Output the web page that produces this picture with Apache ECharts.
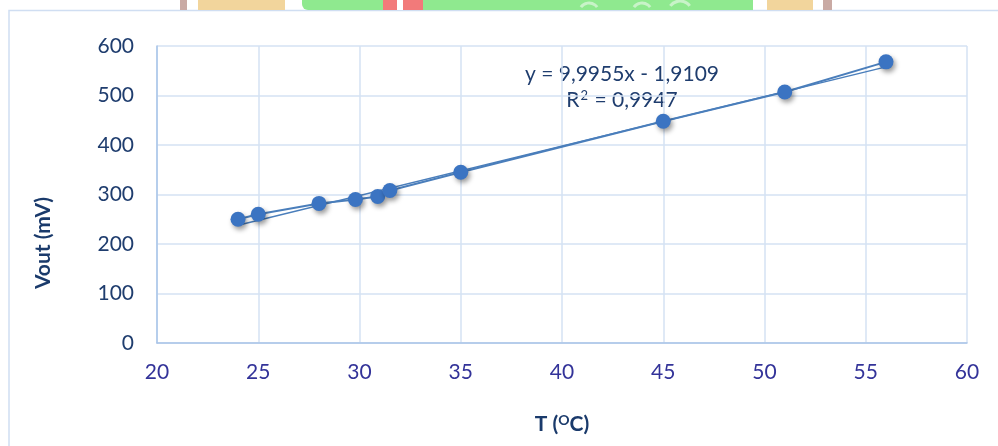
<!DOCTYPE html>
<html>
<head>
<meta charset="utf-8">
<script src="https://cdn.jsdelivr.net/npm/echarts@6/dist/echarts.min.js"></script>
<style>
  html, body { margin: 0; padding: 0; background: #fff; }
  #chart { width: 998px; height: 446px; }
</style>
</head>
<body>
<div id="chart"></div>
<script>
// measured points: temperature (°C) vs output voltage (mV)
const temps = [24, 25, 28, 29.8, 30.9, 31.5, 35, 45, 51, 56];
const vout = [250, 260, 282, 290, 296, 308, 345, 448, 507, 568];

// linear trendline shown on the chart
const slope = 9.9955;
const intercept = -1.9109;
const equationText = 'y = 9,9955x - 1,9109';
const r2Text = 'R{s|2} = 0,9947';

const xTicks = [20, 25, 30, 35, 40, 45, 50, 55, 60];
const yTicks = [0, 100, 200, 300, 400, 500, 600];

const FONT = 'Lato';
const lineBlue = '#4a7ebb';
const gridBlue = '#d5e2f3';

const chart = echarts.init(document.getElementById('chart'));

const points = temps.map((t, i) => [t, vout[i]]);
const tMin = Math.min(...temps), tMax = Math.max(...temps);
const trend = [[tMin, slope * tMin + intercept], [tMax, slope * tMax + intercept]];

chart.setOption({
  animation: false,
  backgroundColor: '#fff',
  grid: { left: 157, right: 31, top: 46, bottom: 103 },
  xAxis: {
    type: 'value',
    min: xTicks[0],
    max: xTicks[xTicks.length - 1],
    interval: 5,
    name: 'T ({s|O}C)',
    nameLocation: 'middle',
    nameGap: 70,
    nameTextStyle: {
      fontFamily: FONT, fontSize: 21, fontWeight: 'bold', color: '#1a3a6b',
      rich: { s: { fontFamily: FONT, fontSize: 14, fontWeight: 'bold', color: '#1a3a6b', verticalAlign: 'top', padding: [0, 0, 9, 0] } }
    },
    axisLine: { show: true, onZero: false, lineStyle: { color: '#a9c4e8', width: 1.5 } },
    axisTick: { show: false },
    axisLabel: { fontFamily: FONT, fontSize: 21, color: '#333399', margin: 19 },
    splitLine: { show: true, lineStyle: { color: gridBlue, width: 1.5 } }
  },
  yAxis: {
    type: 'value',
    min: yTicks[0],
    max: yTicks[yTicks.length - 1],
    interval: 100,
    axisLine: { show: true, lineStyle: { color: '#a9c4e8', width: 1.5 } },
    axisTick: { show: false },
    axisLabel: { fontFamily: FONT, fontSize: 21, color: '#1f3d6e', margin: 23 },
    splitLine: { show: true, lineStyle: { color: gridBlue, width: 1.5 } }
  },
  series: [
    {
      name: 'trend',
      type: 'line',
      data: trend,
      symbol: 'none',
      lineStyle: { color: lineBlue, width: 1.5 },
      z: 2
    },
    {
      name: 'Vout',
      type: 'line',
      data: points,
      symbol: 'circle',
      symbolSize: 15,
      lineStyle: { color: lineBlue, width: 2 },
      itemStyle: {
        color: '#3b74c2',
        shadowBlur: 5,
        shadowOffsetX: 2,
        shadowOffsetY: 3,
        shadowColor: 'rgba(0,0,0,0.4)'
      },
      z: 3
    }
  ],
  graphic: [
    // chart frame
    { type: 'rect', shape: { x: 9, y: 10.5, width: 1100, height: 500 }, style: { fill: 'none', stroke: '#d0def2', lineWidth: 1.5 }, silent: true, z: -1 },
    // partial logo strip behind the top edge
    { type: 'rect', shape: { x: 180, y: 0, width: 7, height: 10 }, style: { fill: '#c9aaa4' }, silent: true },
    { type: 'rect', shape: { x: 198, y: 0, width: 87, height: 10 }, style: { fill: '#f2d59c' }, silent: true },
    { type: 'rect', shape: { x: 302, y: 0, width: 451, height: 10, r: [0, 0, 0, 6] }, style: { fill: '#8fe98f' }, silent: true },
    { type: 'rect', shape: { x: 383, y: 0, width: 40, height: 10 }, style: { fill: '#f27a7a' }, silent: true },
    { type: 'rect', shape: { x: 397, y: 0, width: 6, height: 10 }, style: { fill: '#ffffff' }, silent: true },
    { type: 'arc', shape: { cx: 589, cy: 13, r: 10, startAngle: Math.PI * 1.2, endAngle: Math.PI * 1.8 }, style: { stroke: '#c8f3c8', lineWidth: 3, fill: 'none' }, silent: true },
    { type: 'arc', shape: { cx: 642, cy: 13, r: 10, startAngle: Math.PI * 1.2, endAngle: Math.PI * 1.8 }, style: { stroke: '#c8f3c8', lineWidth: 3, fill: 'none' }, silent: true },
    { type: 'arc', shape: { cx: 680, cy: 13, r: 12, startAngle: Math.PI * 1.2, endAngle: Math.PI * 1.8 }, style: { stroke: '#c8f3c8', lineWidth: 3, fill: 'none' }, silent: true },
    { type: 'rect', shape: { x: 767, y: 0, width: 46, height: 10 }, style: { fill: '#f2d59c' }, silent: true },
    { type: 'rect', shape: { x: 823, y: 0, width: 9, height: 10 }, style: { fill: '#c9aaa4' }, silent: true },
    // y-axis title
    {
      type: 'text', x: 43, y: 243, rotation: Math.PI / 2,
      style: { text: 'Vout (mV)', fontFamily: FONT, fontSize: 21, fontWeight: 'bold', fill: '#1a3a6b', align: 'center', verticalAlign: 'middle' }
    },
    // trendline equation
    {
      type: 'text', x: 622, y: 74,
      style: { text: equationText, fontFamily: FONT, fontSize: 21, fill: '#1f3d6e', align: 'center', verticalAlign: 'middle' }
    },
    {
      type: 'text', x: 622, y: 100,
      style: {
        text: r2Text, fontFamily: FONT, fontSize: 21, fill: '#1f3d6e', align: 'center', verticalAlign: 'middle',
        rich: { s: { fontFamily: FONT, fontSize: 13, fill: '#1f3d6e', verticalAlign: 'top', padding: [0, 1, 9, 1] } }
      }
    }
  ]
});
</script>
</body>
</html>
